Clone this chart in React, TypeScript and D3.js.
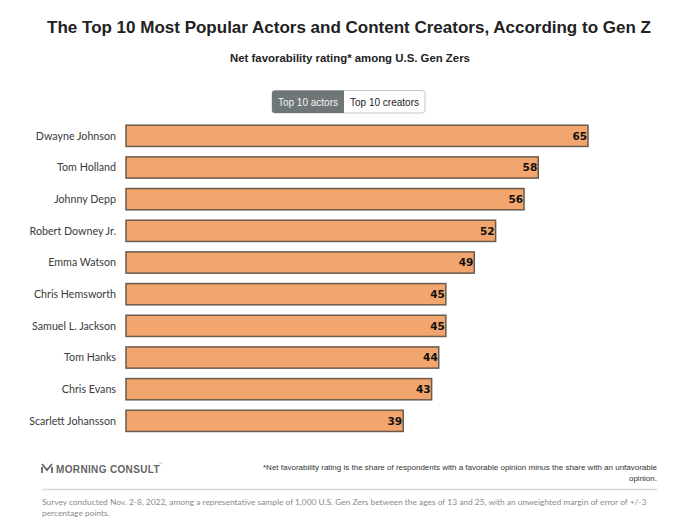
import React from "react";
import * as d3 from "d3";

const names = [
  "Dwayne Johnson",
  "Tom Holland",
  "Johnny Depp",
  "Robert Downey Jr.",
  "Emma Watson",
  "Chris Hemsworth",
  "Samuel L. Jackson",
  "Tom Hanks",
  "Chris Evans",
  "Scarlett Johansson",
];
const values = [65, 58, 56, 52, 49, 45, 45, 44, 43, 39];
const toggleLabels = ["Top 10 actors", "Top 10 creators"];

const W = 680;
const H = 530;

export default function App() {
  const x = d3.scaleLinear().domain([0, 65]).range([126, 588]);
  const y = d3
    .scaleBand<string>()
    .domain(names)
    .range([120, 436.7])
    .paddingInner(0.33)
    .paddingOuter(0.165);

  const labelFont = "Lato, 'Open Sans', sans-serif";
  return (
    <svg
      width={W}
      height={H}
      style={{ position: "absolute", left: 0, top: 0, background: "#fff" }}
    >
      <text
        x={349}
        y={33}
        textAnchor="middle"
        fontFamily="'Liberation Sans', Arial, sans-serif"
        fontWeight="bold"
        fontSize={17}
        fill="#222"
      >
        The Top 10 Most Popular Actors and Content Creators, According to Gen Z
      </text>
      <text
        x={350}
        y={62}
        textAnchor="middle"
        fontFamily="'Liberation Sans', Arial, sans-serif"
        fontWeight="bold"
        fontSize={11.4}
        fill="#222"
      >
        Net favorability rating* among U.S. Gen Zers
      </text>

      {/* toggle */}
      <rect x={272} y={90.5} width={153} height={22.5} rx={3} fill="#fff" stroke="#c8c8c8" />
      <path d="M275,90.5 H344 V113 H275 a3,3 0 0 1 -3,-3 V93.5 a3,3 0 0 1 3,-3 Z" fill="#6f7677" />
      <text x={308} y={105.5} textAnchor="middle" fontFamily="'Liberation Sans', Arial, sans-serif" fontSize={10} fill="#f2f2f2">
        {toggleLabels[0]}
      </text>
      <text x={384.5} y={105.5} textAnchor="middle" fontFamily="'Liberation Sans', Arial, sans-serif" fontSize={10} fill="#222">
        {toggleLabels[1]}
      </text>

      {names.map((n, i) => {
        const yy = y(n)!;
        const bw = y.bandwidth();
        return (
          <g key={n}>
            <rect
              x={x(0)}
              y={yy}
              width={x(values[i]) - x(0)}
              height={bw}
              fill="#F2A66D"
              stroke="#6a5a4c"
              strokeWidth={1.5}
            />
            <text
              x={116}
              y={yy + bw / 2}
              dy="0.35em"
              textAnchor="end"
              fontFamily={labelFont}
              fontSize={10.7}
              fill="#3a3a3a"
            >
              {n}
            </text>
            <text
              x={x(values[i]) - 1}
              y={yy + bw / 2}
              dy="0.36em"
              textAnchor="end"
              fontFamily="'DejaVu Sans', sans-serif"
              fontWeight="bold"
              fontSize={10.5}
              fill="#111"
            >
              {values[i]}
            </text>
          </g>
        );
      })}

      {/* footer */}
      <g transform="translate(42,463)">
        <path d="M0,1 L5,7 L10,1" fill="none" stroke="#666" strokeWidth={1.8} />
        <path d="M0,4 V10 M10,4 V10" fill="none" stroke="#666" strokeWidth={1.8} />
      </g>
      <text
        x={56}
        y={472.5}
        fontFamily="'Liberation Sans', Arial, sans-serif"
        fontWeight="bold"
        fontSize={10}
        letterSpacing={0.35}
        fill="#666"
      >
        MORNING CONSULT
      </text>
      <text x={159} y={465} fontFamily="Arial, sans-serif" fontSize={4} fill="#888">®</text>
      <text
        x={657}
        y={470}
        textAnchor="end"
        fontFamily="'Liberation Sans', Arial, sans-serif"
        fontSize={8}
        fill="#333"
      >
        *Net favorability rating is the share of respondents with a favorable opinion minus the share with an unfavorable
      </text>
      <text
        x={657}
        y={481}
        textAnchor="end"
        fontFamily="'Liberation Sans', Arial, sans-serif"
        fontSize={8}
        fill="#333"
      >
        opinion.
      </text>
      <line x1={42} x2={657} y1={489.5} y2={489.5} stroke="#d5dadb" strokeWidth={1.5} />
      <text
        x={42}
        y={505}
        fontFamily="Lato, 'Open Sans', sans-serif"
        fontSize={8.4}
        fill="#8a8a8a"
      >
        Survey conducted Nov. 2-8, 2022, among a representative sample of 1,000 U.S. Gen Zers between the ages of 13 and 25, with an unweighted margin of error of +/-3
      </text>
      <text
        x={42}
        y={516}
        fontFamily="Lato, 'Open Sans', sans-serif"
        fontSize={8.4}
        fill="#8a8a8a"
      >
        percentage points.
      </text>
    </svg>
  );
}
